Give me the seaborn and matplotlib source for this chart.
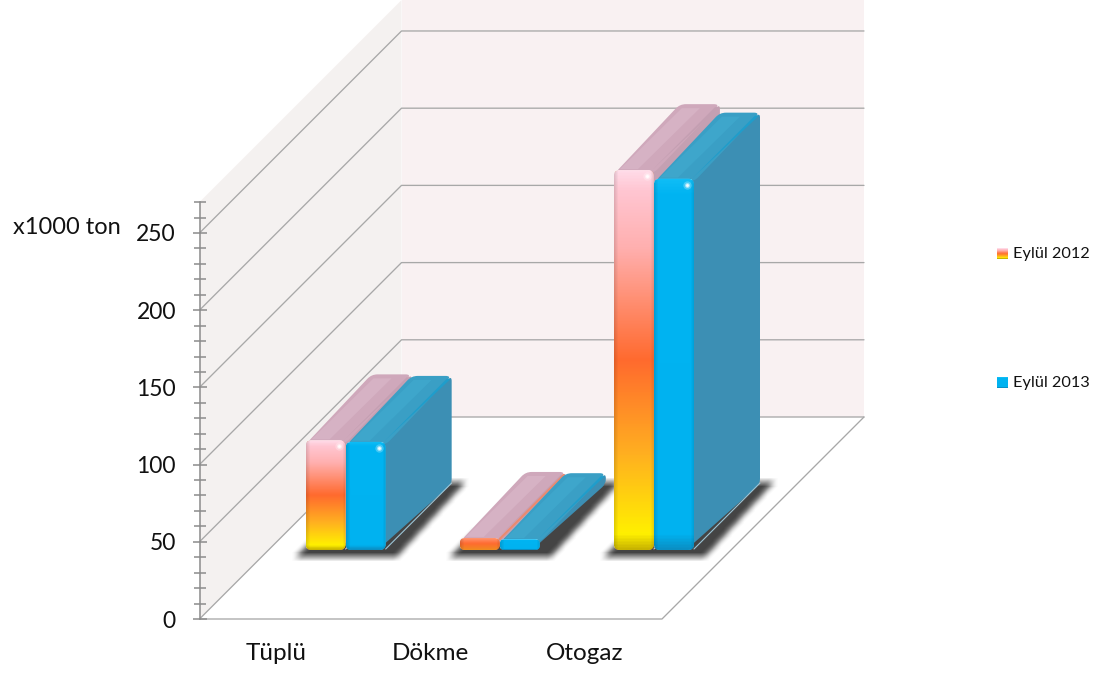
import numpy as np
import pandas as pd
import matplotlib
matplotlib.use("Agg")
import matplotlib.pyplot as plt
import seaborn as sns
from matplotlib.colors import LinearSegmentedColormap
from matplotlib.patches import FancyBboxPatch, Polygon, PathPatch
from matplotlib.path import Path
from matplotlib.ticker import MultipleLocator

# ========== DATA ==========
categories = ["Tüplü", "Dökme", "Otogaz"]
sep_2012 = [71, 7.8, 246]
sep_2013 = [70, 7, 240.5]
series_names = ["Eylül 2012", "Eylül 2013"]
y_major_ticks = [0, 50, 100, 150, 200, 250]

df = pd.DataFrame({
    "kategori": categories * 2,
    "ton": sep_2012 + sep_2013,
    "seri": [series_names[0]] * 3 + [series_names[1]] * 3,
})

# ========== CONFIG ==========
W, H = 1113, 676
Y_TOP = 270
FRONT_L, FRONT_R, FRONT_Y0, FRONT_YT = 199.5, 662, 619, 202.1
WALL_DEPTH = 202
BAR_SHIFT = 69     # how far into the room the bars stand
BAR_DEPTH = 66
R = 6

sns.set_theme(style="white")
plt.rcParams["font.family"] = ["Lato", "DejaVu Sans"]

fig = plt.figure(figsize=(W / 100, H / 100), dpi=100)


def px_axes(left, right, bottom, top):
    return fig.add_axes([left / W, 1 - bottom / H, (right - left) / W, (bottom - top) / H])


# room walls and shadows go on a pixel canvas under everything
canvas = fig.add_axes([0, 0, 1, 1], zorder=0)
canvas.set_xlim(0, W)
canvas.set_ylim(H, 0)
canvas.axis("off")

# front plane, carries the value axis and category labels
ax = px_axes(FRONT_L, FRONT_R, FRONT_Y0, FRONT_YT)
ax.set_zorder(1)
ax.patch.set_alpha(0)
ax.set_xlim(-0.5, 2.5)
ax.set_ylim(0, Y_TOP)
ax.set_xticks(range(3), categories)
ax.set_yticks(y_major_ticks)
ax.yaxis.set_minor_locator(MultipleLocator(10))
ax.tick_params(axis="y", which="major", direction="inout", length=10, width=1.1, color="#8c8c8c",
               left=True, labelsize=16.5, pad=12, labelcolor="#111111")
ax.tick_params(axis="y", which="minor", direction="inout", length=8.5, width=1.1, color="#8c8c8c", left=True)
ax.tick_params(axis="x", length=0, labelsize=17.5, pad=17, labelcolor="#111111")
for side in ["top", "right", "bottom"]:
    ax.spines[side].set_visible(False)
ax.spines["left"].set_color("#8c8c8c")
ax.spines["left"].set_linewidth(1.1)


def to_px(x, y):
    # front plane data -> canvas pixels
    return canvas.transData.inverted().transform(ax.transData.transform((x, y)))


x0, _ = to_px(-0.5, 0)
x1, _ = to_px(2.5, 0)
y0 = to_px(-0.5, 0)[1]
yt = to_px(-0.5, Y_TOP)[1]

canvas.add_patch(Polygon([(x0, y0), (x0 + WALL_DEPTH, y0 - WALL_DEPTH), (x0 + WALL_DEPTH, yt - WALL_DEPTH), (x0, yt)],
                         fc="#f4f1f0", ec="none"))
canvas.add_patch(Polygon([(x0 + WALL_DEPTH, y0 - WALL_DEPTH), (x1 + WALL_DEPTH, y0 - WALL_DEPTH),
                          (x1 + WALL_DEPTH, yt - WALL_DEPTH), (x0 + WALL_DEPTH, yt - WALL_DEPTH)],
                         fc="#f9f1f2", ec="none"))
line_kw = dict(color="#a8a8a8", lw=0.95, solid_capstyle="round")
for v in y_major_ticks:
    _, yp = to_px(-0.5, v)
    canvas.plot([x0, x0 + WALL_DEPTH, x1 + WALL_DEPTH], [yp, yp - WALL_DEPTH, yp - WALL_DEPTH], **line_kw)
canvas.plot([x0, x1, x1 + WALL_DEPTH], [y0, y0, y0 - WALL_DEPTH], **line_kw)

# bars live on the same scale, pushed back into the room
bar_ax = px_axes(FRONT_L + BAR_SHIFT, FRONT_R + BAR_SHIFT, FRONT_Y0 - BAR_SHIFT, FRONT_YT - BAR_SHIFT)
bar_ax.set_zorder(2)
bar_ax.patch.set_alpha(0)
sns.barplot(data=df, x="kategori", y="ton", hue="seri", order=categories, hue_order=series_names,
            palette=["#ff6a30", "#00b0f0"], width=0.52, gap=0, legend=False, ax=bar_ax, zorder=5)
bar_ax.set_xlim(-0.5, 2.5)
bar_ax.set_ylim(0, Y_TOP)
bar_ax.axis("off")

warm_cmap = LinearSegmentedColormap.from_list("warm", [
    (0.0, "#ffdbe8"), (0.05, "#ffc6d2"), (0.2, "#ffb0b0"), (0.5, "#ff6a2e"),
    (0.75, "#ffb020"), (0.96, "#fff000"), (1.0, "#c8b400")])
warm_low_cmap = LinearSegmentedColormap.from_list("warm_low", ["#ff9a78", "#ff6a30", "#f08a20"])
blue_cmap = LinearSegmentedColormap.from_list("blue", [
    (0.0, "#10bdf6"), (0.04, "#00b4f2"), (0.96, "#00b2f0"), (1.0, "#0a8fc4")])
FACE_STYLE = [
    dict(cmap=warm_cmap, top="#cfa8bb", band="#d6b2c4", edge="#c49fb2", side="#c4a0b2"),
    dict(cmap=blue_cmap, top="#3a9fc5", band="#3ea6cb", edge="#1f9dcb", side="#3c8fb4"),
]


def gradient(cmap, w, h):
    rows = cmap(np.linspace(0, 1, max(h, 2)))[:, :3]
    img = np.repeat(rows[:, None, :], w, axis=1)
    edge = np.minimum(np.arange(w), np.arange(w)[::-1]) / 4
    img *= (0.88 + 0.12 * np.clip(edge, 0, 1))[None, :, None]
    return img


def round_poly(pts, fc, zorder, r=5):
    # polygon with quadratic corners for the soft 3D shapes
    pts = np.array(pts, float)
    n = len(pts)
    verts, codes = [], []
    for k in range(n):
        p, a, b = pts[k], pts[k - 1], pts[(k + 1) % n]
        ra = min(r, np.linalg.norm(a - p) / 2)
        rb = min(r, np.linalg.norm(b - p) / 2)
        start = p + (a - p) / np.linalg.norm(a - p) * ra
        end = p + (b - p) / np.linalg.norm(b - p) * rb
        verts += [start, p, end]
        codes += [Path.MOVETO if k == 0 else Path.LINETO, Path.CURVE3, Path.CURVE3]
    verts.append(verts[0])
    codes.append(Path.CLOSEPOLY)
    bar_ax.add_patch(PathPatch(Path(verts, codes), fc=fc, ec="none", transform=canvas.transData,
                               zorder=zorder, clip_on=False))


def soft_shadow(pts):
    xs, ys = zip(*pts)
    left, right = int(min(xs)) - 10, int(max(xs)) + 10
    top, bottom = int(min(ys)) - 10, int(max(ys)) + 10
    gx, gy = np.meshgrid(np.arange(left, right), np.arange(top, bottom))
    mask = Path(pts).contains_points(np.c_[gx.ravel(), gy.ravel()]).reshape(gx.shape).astype(float)
    kernel = np.ones(9) / 9
    for axis in (0, 1):
        mask = np.apply_along_axis(lambda m: np.convolve(m, kernel, mode="same"), axis, mask)
    rgba = np.zeros(mask.shape + (4,))
    rgba[..., :3] = 0.27
    rgba[..., 3] = mask
    canvas.imshow(rgba, extent=[left, right, bottom, top], origin="upper", aspect="auto", zorder=3)


# seaborn puts the bars of one hue together, in category order
n_cat = len(categories)
rects = bar_ax.patches[:2 * n_cat]
to_canvas = bar_ax.transData + canvas.transData.inverted()

for i in range(n_cat):
    left_px = to_canvas.transform((rects[i].get_x(), 0))
    right_px = to_canvas.transform((rects[i + n_cat].get_x() + rects[i + n_cat].get_width(), 0))
    xl, xr, yb = left_px[0], right_px[0], left_px[1]
    d = BAR_DEPTH
    soft_shadow([(xl - 10, yb + 6), (xr + 11, yb + 6), (xr + d + 14, yb - d - 3), (xl + d, yb - d - 3)])

z = 10
for i in range(n_cat):
    for s in range(2):
        rect = rects[i + s * n_cat]
        st = FACE_STYLE[s]
        (l, b) = to_canvas.transform((rect.get_x(), 0))
        (r, t) = to_canvas.transform((rect.get_x() + rect.get_width(), rect.get_height()))
        d = BAR_DEPTH
        w, h = r - l, b - t

        # right side, then top, then the front
        round_poly([(r - 8, t + 3), (r + d, t - d), (r + d, b - d), (r - 8, b)], st["side"], z)
        if h > 30:
            bar_ax.plot([r, r + d], [b - 1, b - d - 1], color="#9cc4d6" if s else "#d8c0cc", lw=0.8,
                        transform=canvas.transData, zorder=z + 0.5, clip_on=False)
        round_poly([(l + 1, t + 3), (r, t + 3), (r + d, t - d), (l + d, t - d)], st["top"], z + 1, r=6)
        bar_ax.add_patch(Polygon([(l + w * 0.15, t - 1), (l + w * 0.6, t - 1), (l + w * 0.6 + d - 4, t - d + 4),
                                  (l + w * 0.15 + d - 4, t - d + 4)],
                                 fc=st["band"], ec="none", transform=canvas.transData, zorder=z + 2, clip_on=False))
        bar_ax.add_patch(Polygon([(r - 3, t + 1), (r - 1, t - 1), (r + d - 1, t - d + 3), (r + d - 5, t - d + 3)],
                                 fc=st["edge"], ec="none", transform=canvas.transData, zorder=z + 2, clip_on=False))
        if h < 30 and s == 0:
            bar_ax.plot([r, r + d - 2], [t + 1, t - d + 3], color="#ea8a70", lw=1.6,
                        transform=canvas.transData, zorder=z + 2.5, clip_on=False)

        rr = min(R, h / 2 - 0.5)
        clip = FancyBboxPatch((l + rr, t + rr), w - 2 * rr, h - 2 * rr,
                              boxstyle=f"round,pad={rr},rounding_size={rr}", transform=canvas.transData)
        rect.set_zorder(z + 3)
        rect.set_clip_path(clip)
        cmap = st["cmap"] if (s == 1 or h > 30) else warm_low_cmap
        im = bar_ax.imshow(gradient(cmap, int(w), int(h)),
                           extent=[rect.get_x(), rect.get_x() + rect.get_width(), 0, rect.get_height()],
                           origin="upper", aspect="auto", zorder=z + 4)
        im.set_clip_path(clip)
        if h > 30:
            for ms, alpha in [(6, 0.25), (3.5, 0.5), (2, 0.9)]:
                bar_ax.plot([r - 7], [t + 6], "o", ms=ms, mfc="white", mec="none", alpha=alpha,
                            transform=canvas.transData, zorder=z + 5)
        z += 10

bar_ax.set_xlim(-0.5, 2.5)
bar_ax.set_ylim(0, Y_TOP)

# ========== LABELS AND LEGEND ==========
canvas.text(13, 227, "x1000 ton", fontsize=17, color="#111111", va="center", ha="left", zorder=20)

swatches = [warm_cmap, blue_cmap]
for name, cmap, yc in zip(series_names, swatches, [254, 383]):
    canvas.imshow(cmap(np.linspace(0, 1, 12))[:, None, :3], extent=[997, 1008, yc + 5.5, yc - 5.5],
                  origin="upper", aspect="auto", zorder=20)
    canvas.text(1013, yc, name, fontsize=11.7, color="#111111", va="center", ha="left", zorder=20)

canvas.set_xlim(0, W)
canvas.set_ylim(H, 0)

fig.savefig("out.png", dpi=100)
